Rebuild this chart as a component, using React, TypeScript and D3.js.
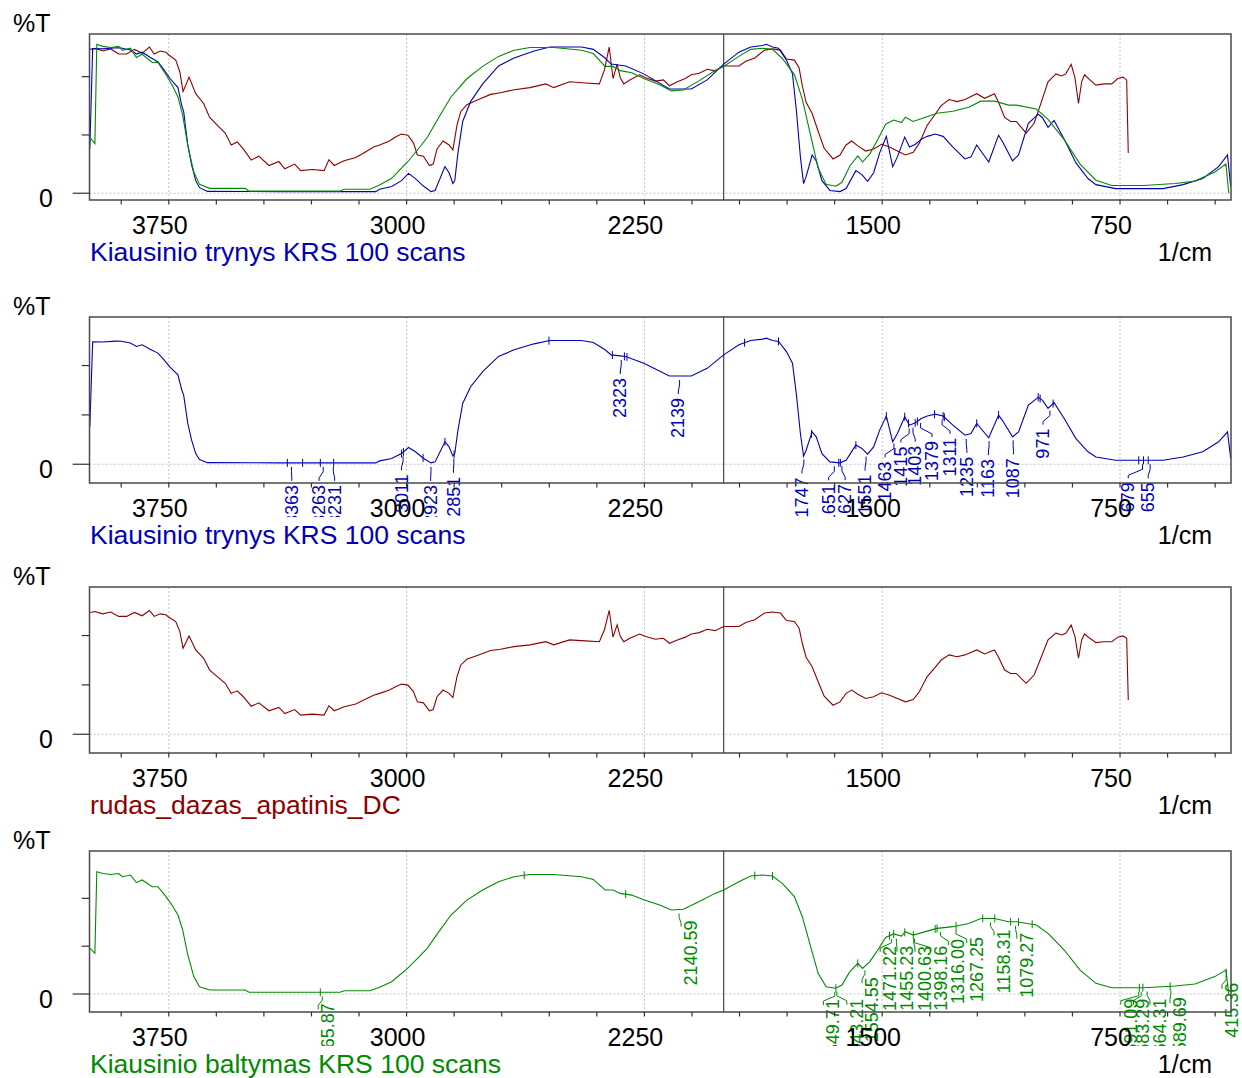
import React from 'react';
import * as d3 from 'd3';

type Pt = [number, number];

// wavenumber (1/cm), %T
const trynys: Pt[] = [
  [3999, 19], [3990, 62], [3960, 61.9], [3915, 62.4], [3900, 62.3], [3871, 61.4], [3852, 59.7], [3834, 60.5],
  [3809, 58.3], [3784, 56.3], [3765, 52.9], [3746, 49.2], [3721, 45.3], [3709, 37.6], [3703, 35], [3690, 20.7],
  [3678, 12.2], [3665, 5.4], [3653, 2.4], [3628, 0.8], [3400, 0.7], [3097, 0.7], [3085, 1.7], [3047, 2.9],
  [3016, 5.4], [2994, 8.5], [2972, 6.3], [2948, 3.2], [2923, 0.7], [2910, 1.2], [2879, 11.4], [2866, 8.8],
  [2854, 4.2], [2848, 5.4], [2838, 17.3], [2823, 30.8], [2798, 39.3], [2760, 46.9], [2710, 54.6], [2661, 58],
  [2598, 61], [2548, 62.7], [2448, 62.7], [2411, 61.7], [2374, 58], [2355, 55.4], [2326, 54.9], [2309, 54.6],
  [2252, 51.2], [2171, 44.7], [2102, 44.7], [2052, 48.6], [2000, 55.4], [1952, 60.5], [1915, 62.7], [1877, 63.4],
  [1865, 63.9], [1846, 62.7], [1827, 62.2], [1802, 57.1], [1783, 51.2], [1771, 35.9], [1758, 15.6], [1748, 4.1],
  [1740, 7.1], [1721, 16.4], [1708, 13.9], [1690, 5.4], [1665, 1.2], [1633, 0.7], [1614, 2], [1583, 9.7],
  [1564, 8], [1546, 5.1], [1527, 8.8], [1508, 17.3], [1487, 24.4], [1467, 11.4], [1452, 15.6], [1429, 24.1],
  [1414, 19.8], [1395, 21], [1377, 23.2], [1358, 24.4], [1333, 25.4], [1308, 24.4], [1277, 19.8], [1239, 14.7],
  [1220, 15.6], [1202, 20.7], [1164, 13.4], [1133, 24.9], [1120, 22], [1089, 13.9], [1070, 16.4], [1039, 30],
  [1008, 33.9], [995, 32.5], [977, 28.3], [958, 31.2], [926, 23.2], [889, 13], [851, 6.3], [826, 3.7],
  [764, 2], [614, 2], [551, 3.7], [489, 6.3], [439, 11.4], [411, 16.4], [401, 2.9],
];

const rudas: Pt[] = [
  [3998, 61.7], [3983, 62.2], [3958, 61], [3933, 61.9], [3908, 59.7], [3883, 59.7], [3858, 61.7], [3834, 60],
  [3811, 62.7], [3796, 59.7], [3777, 61], [3759, 60.5], [3750, 59.3], [3728, 57.1], [3715, 52], [3705, 43.6],
  [3686, 49.8], [3665, 42.7], [3640, 38.5], [3621, 32.5], [3597, 29.2], [3572, 25.8], [3553, 20.7], [3534, 22],
  [3515, 19], [3490, 14.2], [3466, 15.9], [3434, 11.9], [3403, 13.6], [3384, 10.5], [3353, 12.5], [3334, 9.7],
  [3297, 10.2], [3260, 9.7], [3245, 14.4], [3228, 11.9], [3197, 13.9], [3160, 15.3], [3135, 17.3], [3104, 19.8],
  [3085, 20.7], [3054, 22.4], [3035, 24.1], [3016, 25.4], [2996, 24.9], [2978, 21.5], [2966, 16.4], [2947, 15.9],
  [2928, 11.9], [2916, 12.5], [2904, 19], [2885, 22.4], [2866, 20.7], [2854, 18.6], [2841, 29.2], [2829, 35.1],
  [2810, 38], [2773, 40.2], [2735, 42.4], [2704, 43.1], [2661, 44.4], [2611, 45.3], [2561, 46.9], [2536, 45.3],
  [2486, 47.8], [2436, 47.3], [2392, 46.9], [2376, 52.9], [2361, 62.7], [2349, 49.2], [2336, 55.4], [2326, 49.5],
  [2315, 46.9], [2296, 48.6], [2265, 50.8], [2246, 49.5], [2215, 48.1], [2190, 48.6], [2171, 46.1], [2146, 47.8],
  [2121, 49.2], [2102, 50.8], [2077, 51.5], [2052, 53.2], [2027, 52.5], [2000, 54.6], [1952, 54.6], [1930, 56.6],
  [1902, 58], [1871, 61.4], [1846, 61.9], [1821, 61.4], [1802, 57.6], [1777, 57.1], [1762, 53.7], [1752, 46.1],
  [1740, 39], [1721, 34.2], [1702, 26.6], [1683, 19.3], [1655, 14.7], [1633, 16.4], [1614, 20.7], [1596, 22.4],
  [1577, 20.3], [1552, 18.1], [1527, 19], [1502, 21], [1477, 19.8], [1452, 18.1], [1427, 16.4], [1402, 17.6],
  [1383, 21.5], [1358, 29.2], [1333, 33.9], [1314, 37.6], [1289, 40.2], [1264, 39.3], [1239, 40.2], [1202, 42.7],
  [1177, 40.7], [1146, 42.7], [1133, 39], [1114, 32.5], [1095, 30.8], [1077, 30.8], [1046, 25.8], [1021, 30],
  [1002, 37.6], [977, 47.8], [952, 51.2], [934, 50.3], [921, 51.2], [904, 55.3], [892, 49.5], [881, 38.5],
  [871, 47.8], [862, 50.8], [845, 48.6], [826, 46.4], [801, 46.9], [776, 46.9], [757, 49.2], [741, 49.8],
  [729, 48.6], [724, 17.3],
];

const baltymas: Pt[] = [
  [3998, 23.9], [3983, 21.3], [3977, 63.9], [3958, 63], [3933, 62.5], [3908, 63], [3896, 61.3], [3871, 62.2],
  [3852, 58.2], [3834, 59.6], [3802, 56.1], [3784, 56.1], [3759, 50.9], [3740, 46.5], [3721, 41.3], [3706, 33.4],
  [3690, 20.4], [3671, 9.1], [3653, 3.8], [3621, 2.1], [3509, 2.1], [3497, 0.9], [3210, 0.9], [3197, 1.7],
  [3116, 1.7], [3085, 3.5], [3047, 6.4], [2997, 13.4], [2960, 19.5], [2935, 23.9], [2898, 32.6], [2860, 41.3],
  [2810, 49.1], [2760, 54.4], [2710, 58.7], [2661, 61.3], [2611, 62.5], [2536, 62.5], [2448, 61.3], [2411, 59.9],
  [2374, 54.4], [2349, 54.4], [2326, 52.6], [2290, 51.7], [2250, 49.1], [2202, 46.5], [2165, 43.9], [2127, 44.3],
  [2077, 48.3], [2027, 52.6], [2000, 54.4], [1952, 58.7], [1915, 61.7], [1877, 62.2], [1846, 61.7], [1815, 57.8],
  [1777, 50.9], [1752, 40.4], [1727, 25.6], [1702, 10.8], [1677, 3.8], [1646, 3], [1627, 4.7], [1602, 11.7],
  [1577, 16], [1562, 13.4], [1539, 16.9], [1514, 23], [1489, 29.6], [1464, 31.4], [1439, 30.3], [1427, 32.6],
  [1402, 30.8], [1364, 32.6], [1327, 34.3], [1277, 35.2], [1227, 36.9], [1189, 39.5], [1145, 39.5], [1102, 37.8],
  [1077, 37.8], [1014, 36.1], [977, 31.7], [926, 23], [876, 12.5], [826, 5.6], [776, 3.3], [676, 3.3],
  [576, 4.2], [514, 5.2], [451, 9.1], [416, 12.5], [407, 0],
];

// peak picking, Kiausinio trynys
const trynysPeaks = ['3363', '3263', '3231', '3011', '2923', '2851', '2323', '2139', '1747', '1651', '1627', '1551',
  '1463', '1415', '1403', '1379', '1311', '1235', '1163', '1087', '971', '679', '655'];
const trynysLabelAt = [3362, 3276, 3227, 3016, 2924, 2852, 2326, 2143, 1753, 1669, 1617, 1554,
  1491, 1441, 1396, 1343, 1286, 1233, 1165, 1086, 993, 724, 661];
const trynysMarks = [3376, 3328, 3272, 3230, 3016, 3010, 2948, 2879, 2850, 2551, 2351, 2313, 2305, 1934, 1827,
  1723, 1637, 1632, 1583, 1487, 1429, 1417, 1396, 1389, 1335, 1308, 1304, 1202, 1133, 1008, 1002, 961, 691, 676, 661];

// peak picking, Kiausinio baltymas
const baltymasPeaks = ['3265.87', '2140.59', '1649.71', '1643.21', '1554.55', '1471.22', '1455.23', '1400.63',
  '1398.16', '1316.00', '1267.25', '1158.31', '1079.27', '691.09', '683.29', '664.31', '589.69', '415.36'];
const baltymasLabelAt = [3247, 2103, 1654, 1580, 1532, 1475, 1422, 1365,
  1315, 1260, 1202, 1116, 1044, 716, 676, 624, 561, 397];
const baltymasMarks = [3272, 2629, 2309, 1902, 1846, 1646, 1577, 1477, 1464, 1429, 1402, 1333, 1327, 1267,
  1183, 1145, 1095, 1070, 1027, 689, 678, 592, 415];

const xMajor = [3750, 3000, 2250, 1500, 750];
const xMinor = [3900, 3750, 3600, 3450, 3300, 3150, 3000, 2850, 2700, 2550, 2400, 2250, 2100, 1950, 1800, 1650,
  1500, 1350, 1200, 1050, 900, 750, 600, 450];
const yTicks = [0, 25, 50];
const splitAt = 2000;

const BLUE = '#0000b9';
const RED = '#8e0000';
const GREEN = '#008a00';
const FONT = '"Liberation Sans", Arial, Helvetica, sans-serif';

const X0 = 89.5;
const X1 = 1231;
const x = d3.scaleLinear().domain([4000, 400]).range([X0, X1]);

function valueAt(data: Pt[], wn: number) {
  for (let i = 0; i < data.length - 1; i++) {
    const [a, va] = data[i];
    const [b, vb] = data[i + 1];
    if (wn <= a && wn >= b) return va + (vb - va) * (a - wn) / (a - b);
  }
  return data[data.length - 1][1];
}

type Series = { data: Pt[]; color: string };
type Peaks = { labels: string[]; at: number[]; marks: number[]; style: 'below' | 'side' };

const panels: {
  top: number; bottom: number; lo: number; hi: number; series: Series[];
  title: string; titleColor: string; peaks?: Peaks & { data: Pt[]; color: string };
}[] = [
  {
    top: 34, bottom: 200, lo: -2.9, hi: 68.3,
    series: [{ data: rudas, color: RED }, { data: trynys, color: BLUE }, { data: baltymas, color: GREEN }],
    title: 'Kiausinio trynys KRS 100 scans', titleColor: BLUE,
  },
  {
    top: 317, bottom: 483, lo: -9.5, hi: 74.6,
    series: [{ data: trynys, color: BLUE }],
    title: 'Kiausinio trynys KRS 100 scans', titleColor: BLUE,
    peaks: { labels: trynysPeaks, at: trynysLabelAt, marks: trynysMarks, style: 'below', data: trynys, color: BLUE },
  },
  {
    top: 587, bottom: 753, lo: -9.5, hi: 74.6,
    series: [{ data: rudas, color: RED }],
    title: 'rudas_dazas_apatinis_DC', titleColor: RED,
  },
  {
    top: 851, bottom: 1012, lo: -9.4, hi: 74.75,
    series: [{ data: baltymas, color: GREEN }],
    title: 'Kiausinio baltymas KRS 100 scans', titleColor: GREEN,
    peaks: { labels: baltymasPeaks, at: baltymasLabelAt, marks: baltymasMarks, style: 'side', data: baltymas, color: GREEN },
  },
];

function Panel({ p, i }: { p: typeof panels[number]; i: number }) {
  const y = d3.scaleLinear().domain([p.lo, p.hi]).range([p.bottom, p.top]);
  const line = d3.line<Pt>().x((d) => x(d[0])).y((d) => y(d[1]));
  const zero = y(0);
  const pk = p.peaks;

  return (
    <g>
      <defs>
        <clipPath id={`plot${i}`}>
          <rect x={X0} y={p.top} width={X1 - X0} height={p.bottom - p.top} />
        </clipPath>
        <clipPath id={`lab${i}`}>
          <rect x={0} y={p.top} width={1242} height={p.bottom - p.top + 34} />
        </clipPath>
      </defs>

      {xMajor.map((v) => (
        <line key={v} x1={x(v)} x2={x(v)} y1={p.top} y2={p.bottom}
          stroke="#b4b4b4" strokeWidth={0.8} strokeDasharray="2,2" />
      ))}
      <line x1={X0} x2={X1} y1={zero} y2={zero} stroke="#b4b4b4" strokeWidth={0.8} strokeDasharray="2,2" />
      <line x1={x(splitAt)} x2={x(splitAt)} y1={p.top} y2={p.bottom} stroke="#444" strokeWidth={1.2} />

      <g clipPath={`url(#plot${i})`}>
        {p.series.map((s, k) => (
          <path key={k} d={line(s.data) ?? ''} fill="none" stroke={s.color} strokeWidth={1.1} />
        ))}
      </g>

      {pk && (
        <g clipPath={`url(#lab${i})`} fill={pk.color} stroke={pk.color}>
          {pk.marks.map((m) => {
            const cy = y(valueAt(pk.data, m));
            return <line key={m} x1={x(m)} x2={x(m)} y1={cy - 4} y2={cy + 4} strokeWidth={1} />;
          })}
          {pk.labels.map((lab, k) => {
            const wn = parseFloat(lab);
            const cy = y(valueAt(pk.data, wn));
            const xp = x(wn);
            const xl = x(pk.at[k]);
            if (pk.style === 'below') {
              return (
                <g key={lab}>
                  <path d={`M${xp},${cy + 4}L${xp},${cy + 9}L${xl},${cy + 15}L${xl},${cy + 18}`}
                    fill="none" strokeWidth={1} />
                  <text transform={`translate(${xl},${cy + 22}) rotate(-90)`} textAnchor="end"
                    dominantBaseline="central" fontSize={18} fontFamily={FONT} stroke="none">{lab}</text>
                </g>
              );
            }
            const xs = xl - 10;
            return (
              <g key={lab}>
                <path d={`M${xp},${cy + 4}L${xp},${cy + 8}L${xs},${cy + 13}L${xs},${cy + 17}`}
                  fill="none" strokeWidth={1} />
                <text transform={`translate(${xl},${cy + 11}) rotate(-90)`} textAnchor="end"
                  dominantBaseline="central" fontSize={18} fontFamily={FONT} stroke="none">{lab}</text>
              </g>
            );
          })}
        </g>
      )}

      <rect x={X0} y={p.top} width={X1 - X0} height={p.bottom - p.top} fill="none" stroke="#4a4a4a" strokeWidth={1.5} />

      {xMinor.map((v) => (
        <line key={v} x1={x(v)} x2={x(v)} y1={p.bottom} y2={p.bottom + 4.5} stroke="#333" strokeWidth={1.2} />
      ))}
      {yTicks.map((v) => (
        <line key={v} x1={v === 0 ? 72.7 : 81.7} x2={X0} y1={y(v)} y2={y(v)} stroke="#333" strokeWidth={1.2} />
      ))}

      <g fontFamily={FONT} fontSize={25} fill="#000">
        {xMajor.map((v) => (
          <text key={v} x={x(v) - 9} y={p.bottom + 33.5} textAnchor="middle">{v}</text>
        ))}
        <text x={13} y={p.top - 2.3}>%T</text>
        <text x={53} y={zero + 14} textAnchor="end">0</text>
        <text x={1212} y={p.bottom + 60.5} textAnchor="end">1/cm</text>
      </g>
      <text x={90} y={p.bottom + 60.5} fontFamily={FONT} fontSize={26.5} fill={p.titleColor}>{p.title}</text>
    </g>
  );
}

export default function App() {
  return (
    <svg width={1242} height={1078} style={{ position: 'absolute', left: 0, top: 0, background: '#fff' }}>
      <rect width={1242} height={1078} fill="#fff" />
      {panels.map((p, i) => <Panel key={i} p={p} i={i} />)}
    </svg>
  );
}
